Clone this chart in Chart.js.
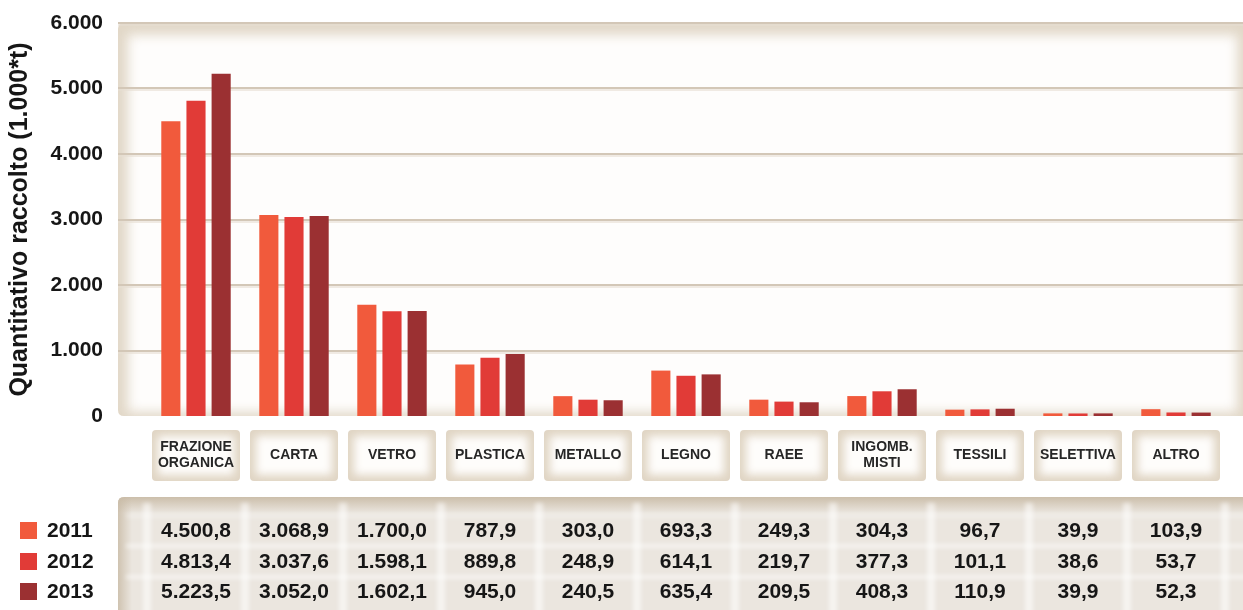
<!DOCTYPE html>
<html>
<head>
<meta charset="utf-8">
<script src="https://cdn.jsdelivr.net/npm/chart.js@4.4.0/dist/chart.umd.min.js"></script>
<style>
    html, body { margin: 0; padding: 0; background: #fff; }
    #wrap { position: relative; width: 1243px; height: 610px; }
</style>
</head>
<body>
<div id="wrap"><canvas id="myChart" width="1243" height="610"></canvas></div>
<script>
// categorie (asse x)
const categorie = [['FRAZIONE', 'ORGANICA'], 'CARTA', 'VETRO', 'PLASTICA', 'METALLO', 'LEGNO', 'RAEE', ['INGOMB.', 'MISTI'], 'TESSILI', 'SELETTIVA', 'ALTRO'];
// anni della legenda
const anni = ['2011', '2012', '2013'];
// quantitativi raccolti (1.000*t)
const valori2011 = [4500.8, 3068.9, 1700.0, 787.9, 303.0, 693.3, 249.3, 304.3, 96.7, 39.9, 103.9];
const valori2012 = [4813.4, 3037.6, 1598.1, 889.8, 248.9, 614.1, 219.7, 377.3, 101.1, 38.6, 53.7];
const valori2013 = [5223.5, 3052.0, 1602.1, 945.0, 240.5, 635.4, 209.5, 408.3, 110.9, 39.9, 52.3];
// tacche asse y
const tickY = [0, 1000, 2000, 3000, 4000, 5000, 6000];

const colori = ['#f15a3c', '#e13b37', '#9b3032'];
const serie = [valori2011, valori2012, valori2013];
const FONT = '"Liberation Sans", Arial, sans-serif';

// formato italiano: 4.500,8
function formatIt(v, dec) {
    let s = v.toFixed(dec);
    let parts = s.split('.');
    parts[0] = parts[0].replace(/\B(?=(\d{3})+(?!\d))/g, '.');
    return parts.length > 1 ? parts[0] + ',' + parts[1] : parts[0];
}

function roundRect(ctx, x, y, w, h, r) {
    ctx.beginPath();
    ctx.moveTo(x + r, y);
    ctx.lineTo(x + w - r, y);
    ctx.quadraticCurveTo(x + w, y, x + w, y + r);
    ctx.lineTo(x + w, y + h - r);
    ctx.quadraticCurveTo(x + w, y + h, x + w - r, y + h);
    ctx.lineTo(x + r, y + h);
    ctx.quadraticCurveTo(x, y + h, x, y + h - r);
    ctx.lineTo(x, y + r);
    ctx.quadraticCurveTo(x, y, x + r, y);
    ctx.closePath();
}

// sfondo del grafico, griglia e riquadri delle etichette
const sfondo = {
    id: 'sfondo',
    beforeDraw(chart) {
        const ctx = chart.ctx;
        const y = chart.scales.y;
        const x = chart.scales.x;
        const top = y.getPixelForValue(6000);
        const bottom = y.getPixelForValue(0);
        const left = 118, right = 1243;

        ctx.save();
        // pannello con bordo beige sfumato
        roundRect(ctx, left, top, right - left + 10, bottom - top, 6);
        ctx.fillStyle = '#e2d8c8';
        ctx.fill();
        ctx.save();
        roundRect(ctx, left, top, right - left + 10, bottom - top, 6);
        ctx.clip();
        ctx.filter = 'blur(6px)';
        ctx.fillStyle = '#fefdfc';
        ctx.fillRect(left + 10, top + 12, right - left - 16, bottom - top - 16);
        ctx.filter = 'none';
        ctx.restore();

        // linee della griglia
        tickY.forEach(t => {
            if (t === 0) return;
            const py = Math.round(y.getPixelForValue(t));
            ctx.fillStyle = '#d3c7b7';
            ctx.fillRect(left, py - 1, right - left, 2);
            ctx.fillStyle = 'rgba(230,222,210,0.6)';
            ctx.fillRect(left, py + 1, right - left, 2);
        });

        // riquadri delle categorie
        categorie.forEach((c, i) => {
            const cx = x.getPixelForValue(i);
            const bx = cx - 44, by = 430, bw = 88, bh = 51;
            roundRect(ctx, bx, by, bw, bh, 4);
            ctx.fillStyle = '#e0d5c4';
            ctx.fill();
            ctx.save();
            roundRect(ctx, bx, by, bw, bh, 4);
            ctx.clip();
            ctx.filter = 'blur(4px)';
            ctx.fillStyle = '#fefdfb';
            ctx.fillRect(bx + 6, by + 6, bw - 12, bh - 12);
            ctx.filter = 'none';
            ctx.restore();
        });
        ctx.restore();
    }
};

// tabella dei valori e legenda
const tabella = {
    id: 'tabella',
    afterDraw(chart) {
        const ctx = chart.ctx;
        const x = chart.scales.x;
        const tLeft = 118, tTop = 497, tRight = 1243, tBottom = 612;
        const righe = [530, 561, 591];

        ctx.save();
        roundRect(ctx, tLeft, tTop, tRight - tLeft + 10, tBottom - tTop + 10, 6);
        ctx.fillStyle = '#ebe6df';
        ctx.fill();
        ctx.save();
        roundRect(ctx, tLeft, tTop, tRight - tLeft + 10, tBottom - tTop + 10, 6);
        ctx.clip();
        // bordo superiore più scuro
        let g = ctx.createLinearGradient(0, tTop, 0, tTop + 16);
        g.addColorStop(0, 'rgba(200,186,165,0.9)');
        g.addColorStop(1, 'rgba(200,186,165,0)');
        ctx.fillStyle = g;
        ctx.fillRect(tLeft, tTop, tRight - tLeft, 16);
        g = ctx.createLinearGradient(tLeft, 0, tLeft + 14, 0);
        g.addColorStop(0, 'rgba(200,186,165,0.8)');
        g.addColorStop(1, 'rgba(200,186,165,0)');
        ctx.fillStyle = g;
        ctx.fillRect(tLeft, tTop, 14, tBottom - tTop);
        // strisce chiare verticali e orizzontali
        ctx.filter = 'blur(2px)';
        ctx.fillStyle = 'rgba(255,255,255,0.55)';
        for (let i = 0; i <= categorie.length; i++) {
            const bx = x.getPixelForValue(i) - 49;
            ctx.fillRect(bx - 4, tTop + 6, 8, tBottom - tTop);
        }
        ctx.fillRect(tLeft + 8, 544, tRight - tLeft, 4);
        ctx.fillRect(tLeft + 8, 575, tRight - tLeft, 4);
        ctx.fillStyle = 'rgba(255,255,255,0.3)';
        ctx.fillRect(tLeft + 8, 514, tRight - tLeft, 4);
        ctx.filter = 'none';
        ctx.restore();

        // valori
        ctx.fillStyle = '#161616';
        ctx.font = 'bold 21px ' + FONT;
        ctx.textAlign = 'center';
        ctx.textBaseline = 'middle';
        serie.forEach((vals, r) => {
            vals.forEach((v, i) => {
                ctx.fillText(formatIt(v, 1), x.getPixelForValue(i), righe[r] + 1);
            });
        });

        // legenda
        ctx.textAlign = 'left';
        ctx.font = 'bold 21px ' + FONT;
        anni.forEach((a, r) => {
            ctx.fillStyle = colori[r];
            ctx.fillRect(20, righe[r] - 8, 17, 17);
            ctx.fillStyle = '#161616';
            ctx.fillText(a, 47, righe[r] + 1);
        });
        ctx.restore();
    }
};

const myChart = document.getElementById('myChart').getContext('2d');

const chart = new Chart(myChart, {
    type: 'bar',
    data: {
        labels: categorie,
        datasets: anni.map((a, i) => ({
            label: a,
            data: serie[i],
            backgroundColor: colori[i],
            borderWidth: 0,
            categoryPercentage: 0.77,
            barPercentage: 0.76,
        }))
    },
    options: {
        responsive: false,
        animation: false,
        layout: {
            padding: { top: 23, right: 18, left: 0, bottom: 0 }
        },
        scales: {
            y: {
                min: 0,
                max: 6000,
                afterFit(scale) {
                    scale.width = 147;
                    scale.paddingTop = 0;
                    scale.paddingBottom = 0;
                },
                afterBuildTicks(scale) { scale.ticks = tickY.map(v => ({ value: v })); },
                border: { display: false },
                grid: { display: false, drawTicks: false },
                ticks: {
                    padding: 44,
                    color: '#161616',
                    font: { family: FONT, size: 21, weight: 'bold' },
                    callback: v => formatIt(v, 0),
                },
                title: {
                    display: true,
                    text: 'Quantitativo raccolto (1.000*t)',
                    color: '#161616',
                    padding: { top: 5, bottom: 0 },
                    font: { family: FONT, size: 25, weight: 'bold' },
                },
            },
            x: {
                afterFit(scale) { scale.height = 194; },
                border: { display: false },
                grid: { display: false, drawTicks: false },
                ticks: {
                    padding: 31,
                    crossAlign: 'center',
                    maxRotation: 0,
                    autoSkip: false,
                    color: '#262626',
                    font: { family: FONT, size: 14, weight: 'bold', lineHeight: 1.15 },
                },
            },
        },
        plugins: {
            legend: { display: false },
            tooltip: { enabled: false },
        },
    },
    plugins: [sfondo, tabella],
});
</script>
</body>
</html>
